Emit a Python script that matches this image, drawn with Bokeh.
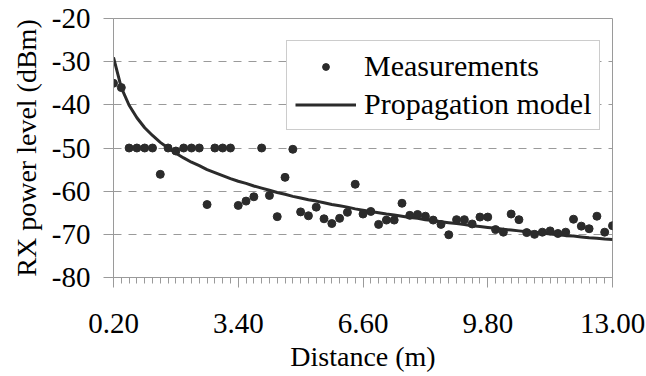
from bokeh.plotting import figure
from bokeh.models import FixedTicker, NumeralTickFormatter, PrintfTickFormatter, Legend, LegendItem
from bokeh.embed import file_html
from bokeh.resources import INLINE

distance = [0.2, 0.4, 0.6, 0.8, 1.0, 1.2, 1.4, 1.6, 1.8, 2.0,
            2.2, 2.4, 2.6, 2.8, 3.0, 3.2, 3.4, 3.6, 3.8, 4.0,
            4.2, 4.4, 4.6, 4.8, 5.0, 5.2, 5.4, 5.6, 5.8, 6.0,
            6.2, 6.4, 6.6, 6.8, 7.0, 7.2, 7.4, 7.6, 7.8, 8.0,
            8.2, 8.4, 8.6, 8.8, 9.0, 9.2, 9.4, 9.6, 9.8, 10.0,
            10.2, 10.4, 10.6, 10.8, 11.0, 11.2, 11.4, 11.6, 11.8, 12.0,
            12.2, 12.4, 12.6, 12.8, 13.0]

measurements = [-35.0, -36.0, -50.0, -50.0, -50.0, -50.0, -56.1, -50.0, -50.7, -50.0,
                -50.0, -50.0, -63.1, -50.0, -50.0, -50.0, -63.3, -62.3, -61.3, -50.0,
                -61.0, -65.9, -56.8, -50.3, -64.8, -65.7, -63.7, -66.4, -67.5, -66.3,
                -64.9, -58.4, -65.3, -64.7, -67.7, -66.7, -66.7, -62.8, -65.6, -65.4,
                -65.8, -66.7, -67.7, -70.1, -66.6, -66.6, -67.6, -66.0, -66.0, -68.9,
                -69.5, -65.3, -66.6, -69.6, -70.0, -69.5, -69.2, -69.8, -69.5, -66.5,
                -68.1, -68.7, -65.8, -69.5, -68.0]

model = [-29.0, -36.0, -40.1, -43.0, -45.3, -47.1, -48.7, -50.0, -51.2, -52.3,
         -53.3, -54.1, -55.0, -55.7, -56.4, -57.1, -57.7, -58.2, -58.8, -59.3,
         -59.8, -60.3, -60.7, -61.2, -61.6, -62.0, -62.3, -62.7, -63.1, -63.4,
         -63.7, -64.1, -64.4, -64.7, -65.0, -65.3, -65.5, -65.8, -66.1, -66.3,
         -66.6, -66.8, -67.1, -67.3, -67.5, -67.7, -68.0, -68.2, -68.4, -68.6,
         -68.8, -69.0, -69.2, -69.4, -69.5, -69.7, -69.9, -70.1, -70.3, -70.4,
         -70.6, -70.8, -70.9, -71.1, -71.2]

x_major_ticks = [0.2, 3.4, 6.6, 9.8, 13.0]
y_ticks = [-80, -70, -60, -50, -40, -30, -20]

FONT = "Liberation Serif"
GRAY = "#9a9a9a"
DARK = "#2b2b2b"

p = figure(width=646, height=376, output_backend="svg", toolbar_location=None,
           x_range=(0.2, 13.0), y_range=(-80, -20),
           min_border_left=113, min_border_right=34, min_border_top=18, min_border_bottom=99)
p.background_fill_color = "white"
p.border_fill_color = "white"
p.outline_line_color = GRAY
p.outline_line_width = 1

# grids
p.xgrid.grid_line_color = None
p.ygrid.grid_line_color = GRAY
p.ygrid.grid_line_dash = "8 7"
p.ygrid.grid_line_width = 1

# x axis
xa = p.xaxis[0]
xa.ticker = FixedTicker(ticks=x_major_ticks, minor_ticks=distance)
xa.formatter = NumeralTickFormatter(format="0.00")
xa.axis_line_color = GRAY
xa.major_tick_line_color = GRAY
xa.minor_tick_line_color = GRAY
xa.major_tick_out = 10
xa.major_tick_in = 0
xa.minor_tick_out = 6
xa.minor_tick_in = 0
xa.major_label_standoff = 26
xa.major_label_text_font = FONT
xa.major_label_text_font_size = "29px"
xa.major_label_text_color = "black"
xa.axis_label = "Distance (m)"
xa.axis_label_text_font = FONT
xa.axis_label_text_font_size = "28px"
xa.axis_label_text_font_style = "normal"
xa.axis_label_text_color = "black"
xa.axis_label_standoff = 5

# y axis
ya = p.yaxis[0]
ya.ticker = FixedTicker(ticks=y_ticks, minor_ticks=[])
ya.formatter = PrintfTickFormatter(format="%d")
ya.axis_line_color = GRAY
ya.major_tick_line_color = GRAY
ya.minor_tick_line_color = None
ya.major_tick_out = 10
ya.major_tick_in = 0
ya.major_label_standoff = 13
ya.major_label_text_font = FONT
ya.major_label_text_font_size = "29px"
ya.major_label_text_color = "black"
ya.axis_label = "RX power level (dBm)"
ya.axis_label_text_font = FONT
ya.axis_label_text_font_size = "28px"
ya.axis_label_text_font_style = "normal"
ya.axis_label_text_color = "black"
ya.axis_label_standoff = 7

r_model = p.line(distance, model, line_color=DARK, line_width=3)
r_meas = p.scatter(distance, measurements, size=8, fill_color=DARK, line_color=DARK)

legend = Legend(items=[LegendItem(label="Measurements", renderers=[r_meas]),
                       LegendItem(label="Propagation model", renderers=[r_model])],
                location=(173, 147))
legend.label_text_font = FONT
legend.label_text_font_size = "30px"
legend.label_text_color = "black"
legend.border_line_color = GRAY
legend.border_line_width = 1
legend.background_fill_color = "white"
legend.background_fill_alpha = 1.0
legend.padding = 8
legend.spacing = 4
legend.margin = 0
legend.glyph_width = 61
legend.glyph_height = 17
legend.label_standoff = 8
p.add_layout(legend, "center")

open("out.html", "w").write(file_html(p, INLINE))
